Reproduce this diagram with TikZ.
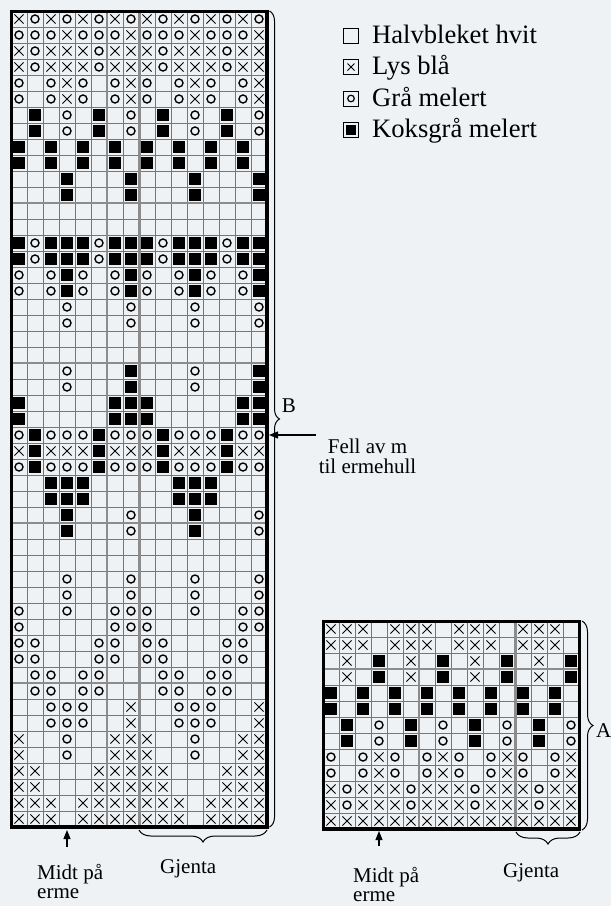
\documentclass[tikz,border=0pt]{standalone}
\usepackage{fontspec}
\setmainfont{Liberation Serif}
\usetikzlibrary{decorations.pathreplacing,arrows.meta}
\definecolor{bg}{RGB}{239,242,245}
\definecolor{gridc}{RGB}{118,118,118}
\definecolor{guidec}{RGB}{140,140,140}
\tikzset{
  gridline/.style={draw=gridc, line width=0.8pt},
  guide/.style={draw=guidec, line width=2pt},
  repguide/.style={draw=guidec, line width=3pt},
  border/.style={draw=black, line width=3pt},
  symline/.style={draw=black, line width=1pt},
  ring/.style={draw=black, line width=1.4pt},
  bracedec/.style={decorate, decoration={brace, amplitude=#1}, draw=black, line width=1pt},
  lbl/.style={font=\fontsize{21}{20}\selectfont, inner sep=0pt},
  leg/.style={font=\fontsize{26.6}{31}\selectfont, inner sep=0pt, anchor=base west},
  legbox/.style={draw=black, line width=0.9pt},
  pointer/.style={draw=black, line width=1.1pt, -{Triangle[length=9pt,width=7pt]}},
  pics/kx/.style={code={\draw[symline] (-4.6,-4.6) -- (4.6,4.6) (-4.6,4.6) -- (4.6,-4.6);}},
  pics/ko/.style={code={\draw[ring] (0,0) circle[radius=4];}},
  pics/kb/.style={code={\fill[black] (-6,-6) rectangle (6,6);}},
}
\newcommand\knitchart[3]{%
  \foreach \rowdata [count=\kr] in {#3} {
    \foreach \kc [count=\kk] in \rowdata {
      \if\kc x\pic at ({#1+(\kk-0.5)*16},{#2+(\kr-0.5)*16}) {kx};\fi
      \if\kc o\pic at ({#1+(\kk-0.5)*16},{#2+(\kr-0.5)*16}) {ko};\fi
      \if\kc b\pic at ({#1+(\kk-0.5)*16},{#2+(\kr-0.5)*16}) {kb};\fi
    }
  }
}
\begin{document}
\begin{tikzpicture}[x={(1pt,0pt)},y={(0pt,-1pt)}]
\useasboundingbox (0,0) rectangle (611,906);
\fill[bg] (0,0) rectangle (611,906);

% ---------- big chart ----------
\knitchart{11}{11}{
{x,o,x,o,x,o,x,o,x,o,x,o,x,o,x,o},
{o,o,o,x,o,o,o,x,o,o,o,x,o,o,o,x},
{x,o,x,x,x,o,x,x,x,o,x,x,x,o,x,x},
{x,o,x,x,x,o,x,x,x,o,x,x,x,o,x,x},
{o,e,o,x,o,e,o,x,o,e,o,x,o,e,o,x},
{o,e,o,x,o,e,o,x,o,e,o,x,o,e,o,x},
{e,b,e,o,e,b,e,o,e,b,e,o,e,b,e,o},
{e,b,e,o,e,b,e,o,e,b,e,o,e,b,e,o},
{b,e,b,e,b,e,b,e,b,e,b,e,b,e,b,e},
{b,e,b,e,b,e,b,e,b,e,b,e,b,e,b,e},
{e,e,e,b,e,e,e,b,e,e,e,b,e,e,e,b},
{e,e,e,b,e,e,e,b,e,e,e,b,e,e,e,b},
{e},
{e},
{b,o,b,b,b,o,b,b,b,o,b,b,b,o,b,b},
{b,o,b,b,b,o,b,b,b,o,b,b,b,o,b,b},
{o,e,o,b,o,e,o,b,o,e,o,b,o,e,o,b},
{o,e,o,b,o,e,o,b,o,e,o,b,o,e,o,b},
{e,e,e,o,e,e,e,o,e,e,e,o,e,e,e,o},
{e,e,e,o,e,e,e,o,e,e,e,o,e,e,e,o},
{e},
{e},
{e,e,e,o,e,e,e,b,e,e,e,o,e,e,e,b},
{e,e,e,o,e,e,e,b,e,e,e,o,e,e,e,b},
{b,e,e,e,e,e,b,b,b,e,e,e,e,e,b,b},
{b,e,e,e,e,e,b,b,b,e,e,e,e,e,b,b},
{o,b,o,o,o,b,o,o,o,b,o,o,o,b,o,o},
{x,b,x,x,x,b,x,x,x,b,x,x,x,b,x,x},
{o,b,o,o,o,b,o,o,o,b,o,o,o,b,o,o},
{e,e,b,b,b,e,e,e,e,e,b,b,b,e,e,e},
{e,e,b,b,b,e,e,e,e,e,b,b,b,e,e,e},
{e,e,e,b,e,e,e,o,e,e,e,b,e,e,e,o},
{e,e,e,b,e,e,e,o,e,e,e,b,e,e,e,o},
{e},
{e},
{e,e,e,o,e,e,e,o,e,e,e,o,e,e,e,o},
{e,e,e,o,e,e,e,o,e,e,e,o,e,e,e,o},
{o,e,e,o,e,e,o,o,o,e,e,o,e,e,o,o},
{o,e,e,e,e,e,o,o,o,e,e,e,e,e,o,o},
{o,o,e,e,e,o,o,e,o,o,e,e,e,o,o,e},
{o,o,e,e,e,o,o,e,o,o,e,e,e,o,o,e},
{e,o,o,e,o,o,e,e,e,o,o,e,o,o,e,e},
{e,o,o,e,o,o,e,e,e,o,o,e,o,o,e,e},
{e,e,o,o,o,e,e,x,e,e,o,o,o,e,e,x},
{e,e,o,o,o,e,e,x,e,e,o,o,o,e,e,x},
{x,e,e,o,e,e,x,x,x,e,e,o,e,e,x,x},
{x,e,e,o,e,e,x,x,x,e,e,o,e,e,x,x},
{x,x,e,e,e,x,x,x,x,x,e,e,e,x,x,x},
{x,x,e,e,e,x,x,x,x,x,e,e,e,x,x,x},
{x,x,x,e,x,x,x,x,x,x,x,e,x,x,x,x},
{x,x,x,e,x,x,x,x,x,x,x,e,x,x,x,x}}
\foreach \i in {0,...,16} \draw[gridline] ({11+16*\i},11) -- ({11+16*\i},827);
\foreach \j in {0,...,51} \draw[gridline] (11,{11+16*\j}) -- (267,{11+16*\j});
\draw[guide] (107,11) -- (107,827);
\foreach \j in {12,22,32,42} \draw[guide] (11,{11+16*\j}) -- (267,{11+16*\j});
\draw[repguide] (139,11) -- (139,827);
\draw[border] (11,11) rectangle (267,827);
\draw[draw=black, line width=4.5pt] (267,9.5) -- (267,828.5);
\draw[draw=black, line width=4pt] (9.5,827) -- (268.5,827);

% ---------- small chart ----------
\knitchart{323}{621}{
{x,x,x,e,x,x,x,e,x,x,x,e,x,x,x,e},
{x,x,x,e,x,x,x,e,x,x,x,e,x,x,x,e},
{e,x,e,b,e,x,e,b,e,x,e,b,e,x,e,b},
{e,x,e,b,e,x,e,b,e,x,e,b,e,x,e,b},
{b,e,b,e,b,e,b,e,b,e,b,e,b,e,b,e},
{b,e,b,e,b,e,b,e,b,e,b,e,b,e,b,e},
{e,b,e,o,e,b,e,o,e,b,e,o,e,b,e,o},
{e,b,e,o,e,b,e,o,e,b,e,o,e,b,e,o},
{o,e,o,x,o,e,o,x,o,e,o,x,o,e,o,x},
{o,e,o,x,o,e,o,x,o,e,o,x,o,e,o,x},
{x,o,x,x,x,o,x,x,x,o,x,x,x,o,x,x},
{x,o,x,x,x,o,x,x,x,o,x,x,x,o,x,x},
{x,x,x,x,x,x,x,x,x,x,x,x,x,x,x,x}}
\foreach \i in {0,...,16} \draw[gridline] ({323+16*\i},621) -- ({323+16*\i},829);
\foreach \j in {0,...,13} \draw[gridline] (323,{621+16*\j}) -- (579,{621+16*\j});
\draw[guide] (419,621) -- (419,829);
\draw[guide] (323,669) -- (579,669);
\draw[repguide] (515,621) -- (515,829);
\draw[border] (323,621) rectangle (579,829);
\draw[draw=black, line width=3.5pt] (321.5,829) -- (580.5,829);

% ---------- legend ----------
\draw[legbox] (343.5,28) rectangle (358.5,43);
\node[leg] (leg1) at (372,43) {Halvbleket hvit};
\draw[legbox] (343.5,59.5) rectangle (358.5,74.5);
\draw[symline] (347.5,63.5) -- (354.5,70.5) (347.5,70.5) -- (354.5,63.5);
\node[leg] (leg2) at (372,74.5) {Lys blå};
\draw[legbox] (343.5,91) rectangle (358.5,106);
\draw[ring, line width=1.2pt] (351,98.5) circle[radius=3.3];
\node[leg] (leg3) at (372,106) {Grå melert};
\draw[legbox] (343.5,122.5) rectangle (358.5,137.5);
\fill[black] (346,125) rectangle (356,135);
\node[leg] (leg4) at (372,137.5) {Koksgrå melert};

% ---------- braces, arrows, labels: big chart ----------
\coordinate (Btop) at (269.5,11);
\coordinate (Bbot) at (269.5,827);
\draw[bracedec=10pt] (Btop) -- (Bbot);
\node[lbl, anchor=base] (Blab) at (289,412) {B};
\coordinate (fellstart) at (316,435);
\coordinate (felltip) at (269,435);
\draw[pointer] (fellstart) -- (felltip);
\node[lbl, anchor=base] (fell1) at (367.5,453) {Fell av m};
\node[lbl, anchor=base] (fell2) at (367.5,473) {til ermehull};
\coordinate (bigGr) at (267,830);
\coordinate (bigGl) at (139,830);
\draw[bracedec=12pt] (bigGr) -- (bigGl);
\node[lbl, anchor=base west] (bigGjenta) at (160,873) {Gjenta};
\coordinate (bigMs) at (67,847);
\coordinate (bigMt) at (67,830);
\draw[pointer] (bigMs) -- (bigMt);
\node[lbl, anchor=base west] (bigMidt1) at (37,879) {Midt på};
\node[lbl, anchor=base west] (bigMidt2) at (37,898.5) {erme};

% ---------- braces, arrows, labels: small chart ----------
\coordinate (Atop) at (582,621);
\coordinate (Abot) at (582,830);
\draw[bracedec=11pt] (Atop) -- (Abot);
\node[lbl, anchor=base west] (Alab) at (596,737) {A};
\coordinate (smGr) at (580,832);
\coordinate (smGl) at (516,832);
\draw[bracedec=12pt] (smGr) -- (smGl);
\node[lbl, anchor=base west] (smGjenta) at (503,877) {Gjenta};
\coordinate (smMs) at (379,846);
\coordinate (smMt) at (379,831);
\draw[pointer] (smMs) -- (smMt);
\node[lbl, anchor=base west] (smMidt1) at (353,882.5) {Midt på};
\node[lbl, anchor=base west] (smMidt2) at (353,901.5) {erme};
\end{tikzpicture}
\end{document}
